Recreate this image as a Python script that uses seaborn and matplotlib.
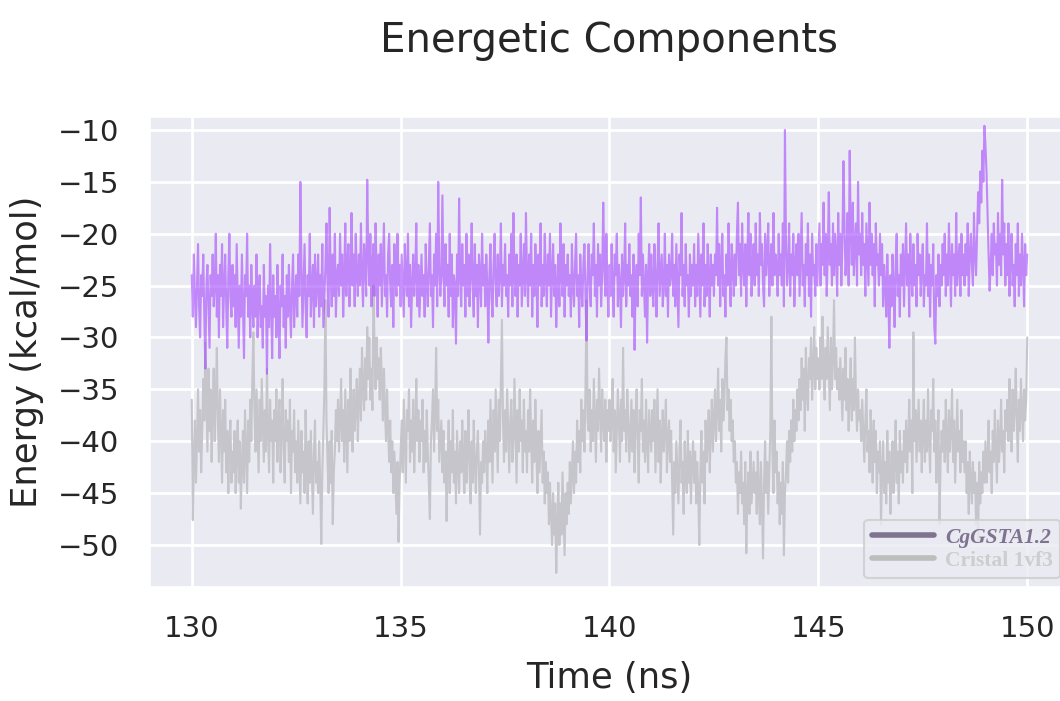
import numpy as np
import pandas as pd
import matplotlib
matplotlib.use("Agg")
import matplotlib.pyplot as plt
from matplotlib.lines import Line2D
import seaborn as sns

# ---- data, one row = 0.5 ns, frames every 0.025 ns ----
t_start, t_end = 130.0, 150.0

cggsta = [
    -24, -28, -22, -26, -29, -25, -21, -27, -30, -24, -26, -22, -28, -33, -25, -23, -27, -31, -24, -26,
    -22, -27, -25, -20, -28, -24, -30, -23, -26, -21, -29, -25, -22, -27, -31, -24, -20, -26, -28, -23,
    -27, -24, -29, -21, -26, -31, -25, -28, -22, -27, -32, -24, -26, -20, -28, -25, -30, -23, -27, -29,
    -25, -28, -22, -30, -26, -24, -29, -27, -31, -23, -28, -26, -33.5, -25, -29, -21, -27, -32, -24, -28,
    -26, -30, -23, -28, -32, -25, -27, -22, -29, -26, -31, -24, -28, -23, -27, -30, -25, -22, -29, -26,
    -24, -28, -22, -26, -15, -23, -29, -25, -21, -27, -30, -24, -26, -20, -28, -25, -23, -29, -22, -27,
    -25, -22, -28, -24, -27, -21, -29, -26, -23, -19, -25, -28, -17.5, -24, -27, -22, -26, -20, -28, -24,
    -23, -26, -20, -25, -22, -28, -24, -19, -26, -23, -21, -27, -24, -18, -25, -22, -27, -20, -24, -26,
    -22, -25, -19, -24, -27, -21, -23, -26, -14.8, -22, -25, -20, -27, -23, -21, -26, -19, -24, -28, -22,
    -25, -21, -27, -23, -19, -26, -24, -28, -22, -20, -25, -27, -23, -29, -21, -24, -26, -20, -25, -23,
    -27, -22, -25, -28, -21, -24, -26, -20, -27, -23, -29, -25, -22, -26, -24, -19, -27, -23, -28, -25,
    -22, -26, -24, -28, -21, -25, -27, -23, -19, -26, -24, -29, -22, -25, -20, -27, -15, -23, -26, -24,
    -16.3, -24, -27, -21, -25, -23, -28, -20, -26, -22, -29, -24, -25, -30.6, -22, -26, -16.6, -24, -27, -21,
    -25, -23, -28, -20, -26, -22, -27, -24, -19, -25, -28, -21, -26, -23, -29, -22, -24, -27, -20, -25,
    -23, -27, -22, -25, -30.5, -24, -21, -26, -28, -23, -20, -25, -27, -22, -26, -24, -19, -27, -23, -25,
    -21, -26, -24, -28, -22, -25, -20, -27, -18, -24, -26, -22, -28, -23, -25, -20, -27, -24, -21, -26,
    -18, -24, -27, -22, -25, -20, -28, -23, -26, -21, -24, -29, -22, -25, -19, -27, -23, -26, -20, -24,
    -27, -22, -25, -20, -28, -24, -21, -26, -23, -29, -25, -22, -27, -19, -24, -26, -21, -28, -23, -25,
    -22, -26, -24, -28, -21, -25, -27, -23, -20, -26, -24, -29, -22, -25, -27, -23, -21, -26, -30.3, -24,
    -21, -25, -27, -22, -24, -19, -26, -23, -28, -21, -25, -22, -27, -24, -17, -23, -26, -20, -25, -28,
    -23, -26, -21, -25, -28, -22, -24, -20, -27, -23, -25, -29, -22, -26, -24, -19, -27, -23, -25, -21,
    -26, -24, -28, -22, -31.2, -25, -23, -27, -20, -24, -16.5, -26, -22, -25, -28, -23, -30.5, -24, -21, -26,
    -22, -25, -27, -21, -24, -28, -23, -19, -26, -24, -22, -27, -25, -20, -26, -23, -28, -22, -25, -24,
    -20, -26, -23, -27, -21, -25, -29, -22, -24, -18, -26, -23, -27, -21, -25, -24, -28, -22, -26, -23,
    -25, -21, -27, -23, -26, -20, -24, -28, -22, -25, -19, -27, -23, -26, -21, -24, -28, -22, -25, -23,
    -26, -22, -24, -17.5, -25, -21, -27, -23, -20, -26, -24, -28, -22, -25, -19, -24, -27, -21, -23, -26,
    -22, -25, -20, -17, -24, -21, -26, -19, -23, -25, -21, -27, -22, -18, -24, -20, -26, -23, -21, -25,
    -19, -24, -22, -26, -18, -23, -21, -25, -27, -20, -24, -22, -19, -26, -23, -21, -25, -18, -24, -22,
    -23, -26, -20, -24, -22, -25, -19, -27, -10, -21, -25, -23, -19, -26, -22, -24, -20, -27, -23, -21,
    -24, -20, -26, -22, -18, -25, -23, -27, -21, -24, -19, -26, -22, -28, -20, -24, -23, -26, -21, -25,
    -22, -19, -25, -21, -23, -17, -24, -20, -26, -22, -16, -23, -21, -25, -19, -24, -20, -22, -26, -18,
    -23, -20, -25, -21, -13, -19, -24, -22, -18, -25, -12, -20, -23, -17, -24, -21, -19, -25, -15, -22,
    -20, -24, -18, -23, -21, -26, -19, -22, -25, -17, -23, -20, -24, -21, -27, -19, -23, -22, -25, -20,
    -24, -21, -27, -23, -25, -28, -22, -26, -31, -24, -27, -22, -25, -29, -23, -20, -26, -24, -28, -22,
    -25, -21, -27, -23, -19, -25, -22, -28, -20, -24, -26, -21, -25, -23, -27, -20, -24, -22, -26, -23,
    -21, -27, -24, -25, -19, -26, -22, -28, -23, -25, -21, -29, -30.6, -24, -26, -22, -27, -23, -25, -21,
    -24, -20, -26, -22, -25, -19, -23, -27, -21, -24, -22, -26, -18, -25, -23, -21, -26, -20, -24, -22,
    -25, -21, -24, -19, -26, -22, -20, -23, -25, -18, -22, -24, -20, -16, -19, -14, -17, -12, -15, -9.6,
    -11.5, -14, -18, -22, -25.5, -23, -20, -24, -19, -22, -21, -25, -18, -23, -20, -24, -14.8, -22, -19, -25,
    -21, -24, -19, -26, -22, -20, -25, -23, -27, -21, -24, -19, -26, -22, -25, -20, -23, -27, -21, -24,
    -22,
]

cristal = [
    -36, -47.6, -42, -38, -44, -40, -35, -41, -37, -43, -39, -34, -38, -30.5, -36, -41, -33, -39, -35, -42,
    -37, -33, -40, -36, -31, -38, -42, -35, -39, -44, -37, -41, -36, -43, -39, -45, -40, -38, -44, -41,
    -43, -39, -45, -41, -38, -44, -40, -46.5, -42, -39, -44, -37, -41, -45, -38, -42, -36, -40, -34, -29.5,
    -37, -41, -35, -39, -43, -36, -40, -34, -38, -42, -37, -41, -33, -39, -43, -36, -40, -38, -44, -37,
    -40, -35, -42, -38, -36, -43, -39, -34, -41, -44, -37, -40, -38, -42, -36, -45, -39, -41, -37, -43,
    -40, -44, -38, -42, -46, -39, -43, -41, -45, -37, -42, -46, -40, -44, -39, -43, -47, -41, -38, -44,
    -42, -45, -40, -44, -49.9, -43, -39, -35, -26.4, -38, -42, -45, -40, -44, -39, -48, -43, -41, -37, -40,
    -36, -41, -38, -34, -40, -37, -42, -35, -39, -43, -36, -40, -33, -38, -41, -35, -39, -37, -34, -40,
    -36, -33, -38, -31, -35, -37, -32, -36, -29, -34, -30, -36, -33, -37, -25, -31, -35, -30, -34, -32,
    -36, -31, -34, -38, -33, -37, -40, -35, -39, -42, -38, -43, -40, -45, -41, -44, -47, -42, -49.7, -44,
    -41, -38, -43, -36, -40, -44, -37, -39, -35, -42, -38, -41, -36, -43, -39, -34, -40, -37, -42, -38,
    -40, -36, -43, -39, -42, -37, -41, -44, -47.5, -40, -38, -35, -41, -37, -31, -39, -36, -42, -40, -38,
    -43, -39, -44, -41, -47.7, -42, -38, -45, -40, -43, -37, -44, -41, -46, -39, -42, -45, -40, -43, -38,
    -42, -45, -39, -44, -41, -37, -43, -46, -40, -44, -38, -42, -45, -41, -39, -43, -49, -42, -44, -40,
    -43, -39, -41, -45, -38, -42, -36, -40, -44, -37, -41, -35, -39, -43, -36, -40, -34, -28.3, -38, -42,
    -37, -41, -35, -39, -43, -38, -36, -42, -40, -34, -39, -44, -37, -41, -35, -40, -38, -43, -36, -41,
    -39, -43, -37, -41, -35, -40, -44, -38, -42, -36, -41, -45, -39, -43, -40, -37, -44, -41, -46, -42,
    -45, -43, -48, -44, -47, -50, -45, -49, -46, -52.7, -48, -44, -50, -46, -49, -43, -47, -51, -45, -48,
    -44, -47, -42, -46, -43, -40, -45, -41, -44, -38, -42, -39, -43, -36, -40, -37, -41, -35, -26.4, -38,
    -39, -35, -41, -37, -40, -34, -38, -42, -36, -39, -33, -37, -41, -35, -38, -40, -36, -42, -37, -39,
    -36, -40, -38, -34, -41, -37, -43, -39, -35, -38, -42, -36, -40, -31, -39, -37, -41, -35, -38, -42,
    -39, -36, -41, -37, -43, -38, -35, -40, -44, -37, -39, -34, -41, -38, -42, -36, -40, -43, -37, -39,
    -41, -37, -40, -36, -43, -39, -35, -42, -38, -44, -40, -37, -41, -39, -36, -43, -40, -38, -42, -39,
    -44, -49, -42, -45, -40, -43, -46, -41, -38, -44, -42, -47, -40, -43, -45, -39, -44, -41, -46, -42,
    -40, -44, -41, -46, -42, -45, -50, -43, -39, -44, -41, -46, -38, -42, -40, -37, -43, -39, -36, -41,
    -38, -35, -40, -37, -33, -39, -36, -41, -34, -38, -36, -32, -30, -37, -35, -39, -36, -40, -38, -42,
    -40, -44, -42, -47, -43, -45, -41, -46, -44, -48, -42, -50.8, -45, -43, -47, -41, -46, -44, -42, -45,
    -43, -47, -41, -45, -48, -42, -46, -51.3, -44, -40, -45, -42, -47, -43, -39, -28, -41, -45, -38, -43,
    -41, -46, -43, -48, -44, -47, -42, -51, -45, -43, -40, -44, -39, -42, -38, -41, -36, -40, -37, -39,
    -35, -38, -34, -37, -32, -36, -33, -39, -31, -35, -37, -32, -34, -30, -36, -33, -29, -35, -31, -34,
    -32, -35, -30, -34, -28, -33, -36, -31, -34, -29, -33, -37, -30, -35, -32, -26.4, -34, -31, -35, -33,
    -36, -32, -35, -38, -33, -36, -31, -37, -34, -39, -35, -32, -38, -34, -37, -30, -36, -39, -35, -38,
    -37, -40, -36, -39, -42, -38, -35, -41, -39, -43, -37, -40, -44, -38, -42, -39, -45, -41, -43, -40,
    -48, -43, -40, -45, -42, -46, -39, -44, -41, -47, -43, -40, -45, -42, -38, -44, -41, -46, -39, -43,
    -41, -44, -39, -42, -38, -43, -40, -36, -41, -38, -45, -29.5, -40, -37, -42, -39, -36, -41, -38, -43,
    -39, -36, -42, -38, -41, -35, -40, -43, -37, -39, -34, -41, -38, -44, -40, -37, -48, -42, -39, -41,
    -38, -42, -36, -40, -43, -37, -41, -39, -35, -42, -38, -44, -40, -36, -41, -39, -43, -37, -42, -40,
    -43, -40, -45, -42, -47, -41, -44, -46, -42, -45, -43, -48, -44, -49.5, -42, -46, -43, -45, -41, -44,
    -40, -44, -42, -38, -43, -41, -45, -39, -42, -37, -41, -44, -38, -42, -40, -36, -41, -39, -43, -37,
    -39, -36, -40, -34, -38, -41, -35, -39, -37, -33, -38, -42, -36, -39, -34, -37, -40, -35, -38, -36,
    -30,
]

series_names = ["CgGSTA1.2", "Cristal 1vf3"]
title_text = "Energetic Components"
x_label = "Time (ns)"
y_label = "Energy (kcal/mol)"
x_ticks = [130, 135, 140, 145, 150]
y_ticks = [-10, -15, -20, -25, -30, -35, -40, -45, -50]

time_a = np.linspace(t_start, t_end, len(cggsta))
time_b = np.linspace(t_start, t_end, len(cristal))
df = pd.DataFrame({
    "Time": np.concatenate([time_a, time_b]),
    "Energy": np.array(cggsta + cristal, dtype=float),
    "System": [series_names[0]] * len(cggsta) + [series_names[1]] * len(cristal),
})

# ---- style ----
sns.set_theme(style="darkgrid", rc={"grid.linewidth": 2.0})
plt.rcParams["font.family"] = ["DejaVu Sans"]

fig = plt.figure(figsize=(10.60, 7.01), dpi=100)
ax = fig.add_axes([150 / 1060, 114 / 701, 919 / 1060, 470 / 701])

sns.lineplot(data=df[df["System"] == series_names[1]], x="Time", y="Energy",
             color="#c6c5cb", linewidth=1.5, estimator=None, legend=False, ax=ax)
sns.lineplot(data=df[df["System"] == series_names[0]], x="Time", y="Energy",
             color="#a445ff", alpha=0.6, linewidth=1.5, estimator=None, legend=False, ax=ax)

ax.set_xlim(129.0, 151.0)
ax.set_ylim(-54.05, -8.75)
ax.set_xticks(x_ticks)
ax.set_yticks(y_ticks)
ax.tick_params(axis="x", labelsize=21, colors="#262626", pad=20, length=0)
ax.tick_params(axis="y", labelsize=21, colors="#262626", pad=22, length=0)
ax.set_xlabel(x_label, fontsize=25.5, color="#262626", labelpad=13)
ax.set_ylabel(y_label, fontsize=25.5, color="#262626", labelpad=10)
ax.set_title(title_text, fontsize=29, color="#262626", pad=47)

handles = [Line2D([0], [0], color="#7f7390", lw=4.0, solid_capstyle="round"),
           Line2D([0], [0], color="#bdbdbd", lw=4.0, solid_capstyle="round")]
leg = ax.legend(handles, series_names, loc="lower right",
                prop={"family": "Liberation Serif", "weight": "bold", "style": "italic", "size": 15.5},
                handlelength=2.9, labelspacing=0.15, borderpad=0.35, handletextpad=0.5,
                frameon=True, framealpha=0.8, edgecolor="#cccccc", borderaxespad=0.4)
leg.get_frame().set_linewidth(1.5)
leg.get_texts()[0].set_color("#7f7390")
leg.get_texts()[1].set_color("#cdcdcd")
leg.get_texts()[1].set_fontstyle("normal")

fig.savefig("out.png", dpi=100)
